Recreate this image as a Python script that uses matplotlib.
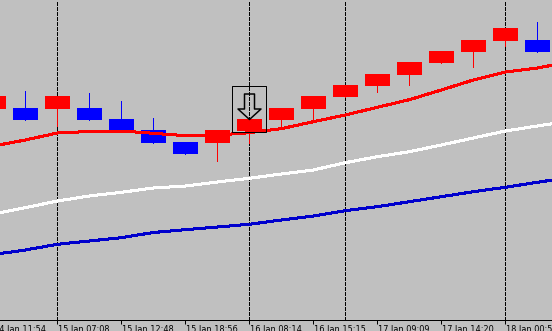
import numpy as np
import matplotlib
matplotlib.use("Agg")
import matplotlib.pyplot as plt
from matplotlib.path import Path

# Candles (Heikin-Ashi style, red = up, blue = down)
opens = [1.30913, 1.30920, 1.30913, 1.30920, 1.30810, 1.30700, 1.30580, 1.30573, 1.30693,
         1.30803, 1.30913, 1.31033, 1.31143, 1.31253, 1.31373, 1.31483, 1.31593, 1.31600]
closes = [1.31040, 1.30803, 1.31040, 1.30803, 1.30693, 1.30573, 1.30463, 1.30700, 1.30810,
          1.30920, 1.31040, 1.31150, 1.31260, 1.31380, 1.31490, 1.31600, 1.31720, 1.31483]
highs = [1.31040, 1.31090, 1.31040, 1.31070, 1.30990, 1.30820, 1.30580, 1.30700, 1.30810,
         1.30920, 1.31040, 1.31150, 1.31260, 1.31380, 1.31490, 1.31600, 1.31720, 1.31780]
lows = [1.30913, 1.30803, 1.30740, 1.30803, 1.30693, 1.30573, 1.30463, 1.30393, 1.30573,
        1.30723, 1.30780, 1.31033, 1.31083, 1.31153, 1.31373, 1.31333, 1.31543, 1.31483]

# Moving averages (one bar more, chart continues past the right edge)
ma_fast = [1.30540, 1.30600, 1.30670, 1.30685, 1.30690, 1.30667, 1.30643, 1.30650, 1.30673, 1.30713,
           1.30783, 1.30850, 1.30927, 1.31003, 1.31100, 1.31200, 1.31280, 1.31320, 1.31380]
ma_mid = [1.29860, 1.29923, 1.29990, 1.30040, 1.30077, 1.30120, 1.30140, 1.30180, 1.30217, 1.30260,
          1.30300, 1.30373, 1.30433, 1.30483, 1.30550, 1.30620, 1.30690, 1.30740, 1.30790]
ma_slow = [1.29455, 1.29500, 1.29557, 1.29590, 1.29623, 1.29675, 1.29703, 1.29730, 1.29757, 1.29800,
           1.29840, 1.29893, 1.29933, 1.29983, 1.30033, 1.30083, 1.30127, 1.30177, 1.30225]

# Time labels on every second bar
label_bars = [0, 2, 4, 6, 8, 10, 12, 14, 16]
time_labels = ["14 Jan 11:54", "15 Jan 07:08", "15 Jan 12:48", "15 Jan 18:56", "16 Jan 08:14",
               "16 Jan 15:15", "17 Jan 09:09", "17 Jan 14:20", "18 Jan 00:52"]
day_separators = [2, 8, 11, 16]
signal_bar = 8

bg = "#c0c0c0"
px = 0.72  # one pixel in points at dpi 100

fig = plt.figure(figsize=(5.52, 3.31), dpi=100, facecolor=bg)
bottom = (331 - 319.5) / 331
ax = fig.add_axes([0, bottom, 1, 1 - bottom])
ax.set_facecolor(bg)

x = np.arange(len(opens))
opens = np.array(opens)
closes = np.array(closes)
up = closes >= opens
colors = np.where(up, "#ff0000", "#0000ff")

# day separators
for d in day_separators:
    ax.axvline(d, color="black", lw=px, linestyle=(0, (3, 2)), zorder=1, antialiased=False)

# wicks and bodies
ax.vlines(x, lows, highs, colors=colors, lw=px, zorder=2, antialiased=False)
ax.bar(x, closes - opens, bottom=opens, width=0.78, color=colors, linewidth=0,
       zorder=3, antialiased=False)

# moving averages
xm = np.arange(len(ma_fast))
ax.plot(xm, ma_slow, color="#0000cd", lw=2 * px, zorder=4, antialiased=False)
ax.plot(xm, ma_mid, color="white", lw=2 * px, zorder=4, antialiased=False)
ax.plot(xm, ma_fast, color="#ff0000", lw=2 * px, zorder=4, antialiased=False)

# hollow down arrow over the signal bar, apex on the bar high
arrow = Path([(0, 0), (-11.5, 10.5), (-5, 10.5), (-5, 25.5), (5, 25.5), (5, 10.5), (11.5, 10.5), (0, 0)],
             [Path.MOVETO] + [Path.LINETO] * 6 + [Path.CLOSEPOLY])
box = Path([(-17.2, -12.8), (17.2, -12.8), (17.2, 33.3), (-17.2, 33.3), (-17.2, -12.8)],
           [Path.MOVETO] + [Path.LINETO] * 3 + [Path.CLOSEPOLY])
ax.plot(signal_bar, highs[signal_bar], marker=arrow, ms=2 * 25.5 * px, mfc="none",
        mec="black", mew=1.5 * px, zorder=6)
ax.plot(signal_bar, highs[signal_bar], marker=box, ms=2 * 33.3 * px, mfc="none",
        mec="black", mew=px, zorder=6)

for s in ["top", "left", "right"]:
    ax.spines[s].set_visible(False)
ax.spines["bottom"].set_color("black")
ax.spines["bottom"].set_linewidth(px)

ax.set_yticks([])
ax.set_xticks(label_bars)
ax.set_xticklabels([""] * len(label_bars))
ax.tick_params(axis="x", direction="out", length=4 * px, width=px, color="black")

# time labels start at their tick, like the terminal does
for b, lbl in zip(label_bars, time_labels):
    ax.annotate(lbl, xy=(b, 0), xycoords=("data", "axes fraction"), xytext=(0.3, -3.6),
                textcoords="offset points", ha="left", va="top", fontsize=5.9,
                family="DejaVu Sans", annotation_clip=False)

# limits last, set_xticks would widen them
ax.set_xlim(6.7 / 32, (552 + 6.7) / 32)
ax.set_ylim(1.28805, 1.3200)

fig.savefig("out.png", dpi=100, facecolor=bg)
